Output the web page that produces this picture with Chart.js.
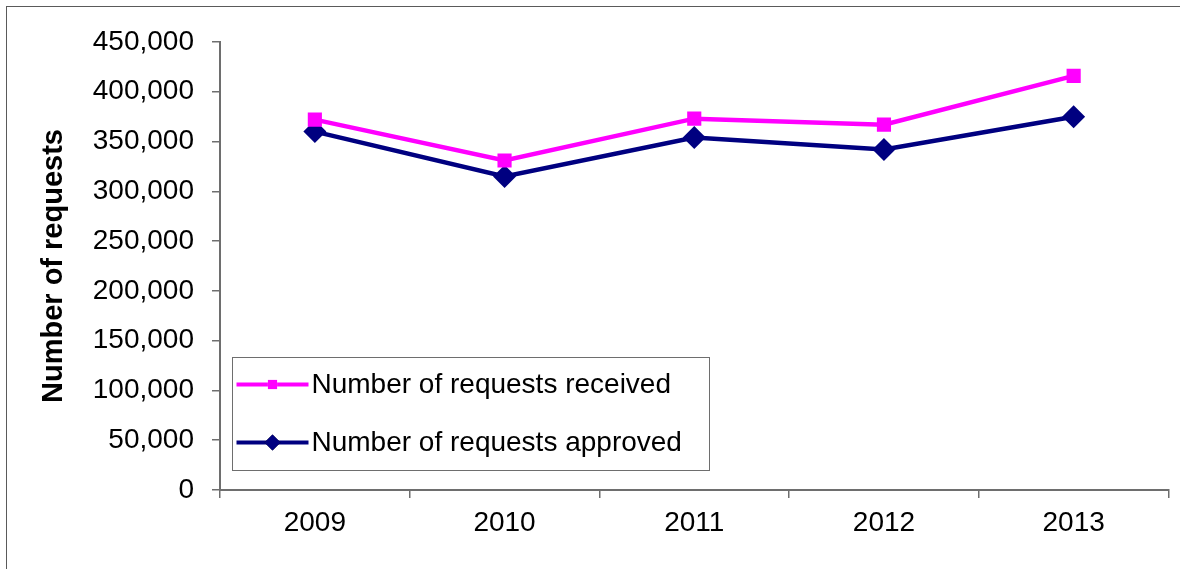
<!DOCTYPE html>
<html>
<head>
<meta charset="utf-8">
<script src="https://cdn.jsdelivr.net/npm/chart.js@4/dist/chart.umd.min.js"></script>
<style>
  html, body { margin: 0; padding: 0; background: #fff; }
  #wrap { width: 1180px; height: 569px; }
</style>
</head>
<body>
<div id="wrap"><canvas id="requests-line"></canvas></div>
<script>
// values
const years = ["2009", "2010", "2011", "2012", "2013"];
const received = [372000, 331000, 373000, 367000, 416000];
const approved = [360000, 315000, 354000, 342000, 375000];
const yTicks = [0, 50000, 100000, 150000, 200000, 250000, 300000, 350000, 400000, 450000];

const FONT = "'Liberation Sans', Arial, sans-serif";
const AXIS = "#6e6e6e";

// outer frame and the boxed legend inside the plot
const framePlugin = {
	id: "frame",
	beforeDraw(chart) {
		const ctx = chart.ctx;
		ctx.save();
		ctx.fillStyle = "#fff";
		ctx.fillRect(0, 0, chart.width, chart.height);
		ctx.strokeStyle = "#5a5a5a";
		ctx.lineWidth = 1;
		ctx.strokeRect(6.5, 6.5, chart.width + 20, chart.height + 20);
		ctx.restore();
	},
	afterDraw(chart) {
		const ctx = chart.ctx;
		const area = chart.chartArea;
		const bx = area.left + 12.5, by = area.top + 315.5;
		ctx.save();
		ctx.fillStyle = "#fff";
		ctx.fillRect(bx, by, 477, 113);
		ctx.strokeStyle = AXIS;
		ctx.lineWidth = 1;
		ctx.strokeRect(bx, by, 477, 113);
		ctx.font = "28px " + FONT;
		ctx.textBaseline = "middle";
		chart.data.datasets.forEach((ds, i) => {
			const y = by + 27 + i * 58;
			ctx.strokeStyle = ds.borderColor;
			ctx.lineWidth = 4;
			ctx.beginPath();
			ctx.moveTo(bx + 4, y);
			ctx.lineTo(bx + 76, y);
			ctx.stroke();
			Chart.helpers.drawPoint(ctx, {
				pointStyle: ds.pointStyle,
				radius: ds.legendRadius,
				borderWidth: 0
			}, bx + 40, y);
			ctx.fillStyle = ds.borderColor;
			ctx.fill();
			ctx.fillStyle = "#000";
			ctx.fillText(ds.label, bx + 79, y + 1);
		});
		ctx.restore();
	}
};

const chartData = {
	labels: years,
	datasets: [{
		label: "Number of requests received",
		data: received,
		borderColor: "#ff00ff",
		backgroundColor: "#ff00ff",
		borderWidth: 4.5,
		pointStyle: "rect",
		pointRadius: 10,
		pointBorderWidth: 0,
		legendRadius: 6.5,
		lineTension: 0,
		fill: false
	}, {
		label: "Number of requests approved",
		data: approved,
		borderColor: "#000080",
		backgroundColor: "#000080",
		borderWidth: 4.5,
		pointStyle: "rectRot",
		pointRadius: 11.5,
		pointBorderWidth: 0,
		legendRadius: 8,
		lineTension: 0,
		fill: false
	}]
};

new Chart(document.getElementById("requests-line"), {
	type: "line",
	data: chartData,
	plugins: [framePlugin],
	options: {
		responsive: true,
		maintainAspectRatio: false,
		animation: false,
		events: [],
		layout: { padding: { left: 0, top: 42, right: 5, bottom: 0 } },
		plugins: {
			legend: { display: false },
			tooltip: { enabled: false }
		},
		scales: {
			x: {
				offset: true,
				border: { color: AXIS, width: 2 },
				grid: {
					offset: true,
					drawOnChartArea: false,
					drawTicks: true,
					tickLength: 8,
					color: AXIS,
					lineWidth: 1.5
				},
				ticks: {
					color: "#000",
					padding: 8,
					font: { family: FONT, size: 28 }
				},
				afterFit(scale) { scale.height = 79; }
			},
			y: {
				min: 0,
				max: 450000,
				border: { color: AXIS, width: 2 },
				grid: {
					drawOnChartArea: false,
					drawTicks: true,
					tickLength: 8,
					color: AXIS,
					lineWidth: 1.5
				},
				afterBuildTicks(scale) {
					scale.ticks = yTicks.map(v => ({ value: v }));
				},
				ticks: {
					color: "#000",
					padding: 18,
					font: { family: FONT, size: 28 },
					callback: (v) => v.toLocaleString("en-US")
				},
				title: {
					display: true,
					text: "Number of requests",
					color: "#000",
					padding: { top: 37, bottom: 0 },
					font: { family: FONT, size: 29, weight: "bold" }
				},
				afterFit(scale) { scale.width = 220; }
			}
		}
	}
});
</script>
</body>
</html>
